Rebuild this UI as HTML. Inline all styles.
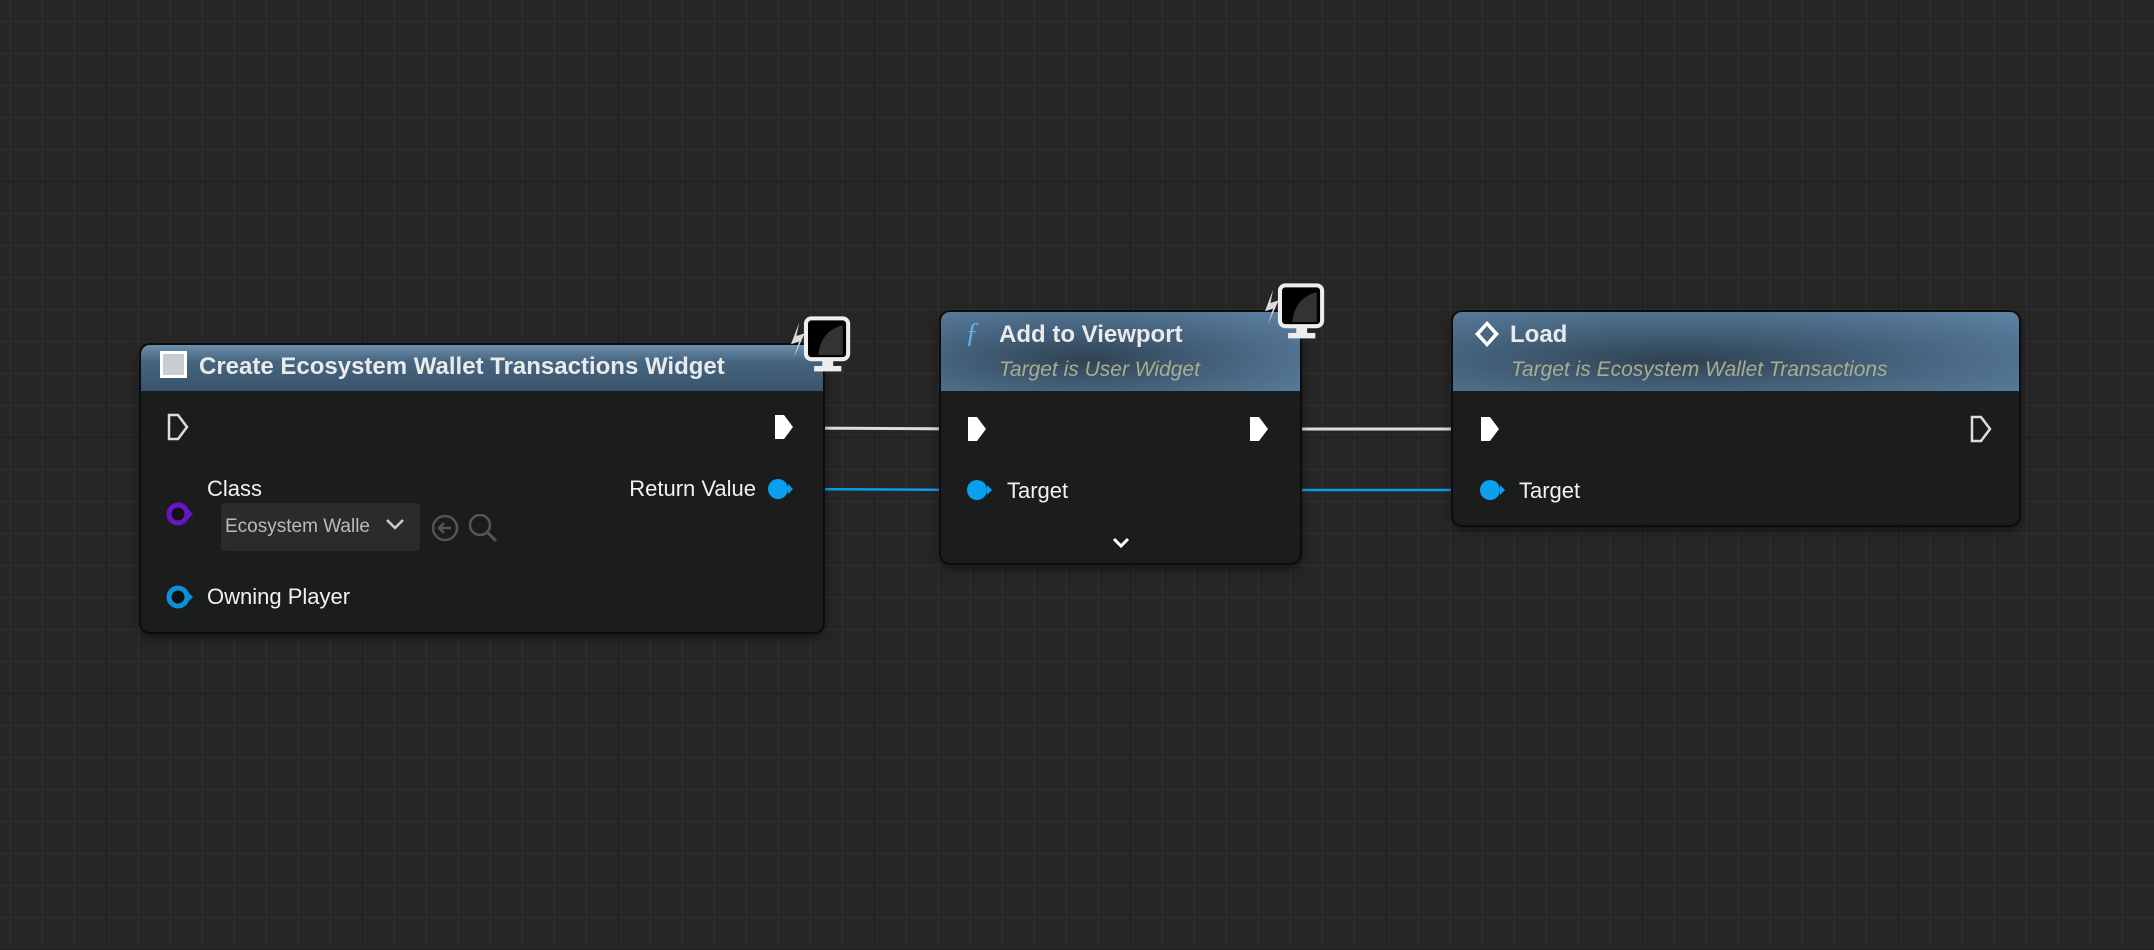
<!DOCTYPE html>
<html><head><meta charset="utf-8"><style>
html,body{margin:0;padding:0;}
body{width:2154px;height:950px;overflow:hidden;position:relative;font-family:"Liberation Sans",sans-serif;
background-color:#262626;
background-image:
linear-gradient(to right,#1e1e1e 0,#1e1e1e 1px,transparent 1px),
linear-gradient(to bottom,#1e1e1e 0,#1e1e1e 1px,transparent 1px),
linear-gradient(to right,#2f2f2f 0,#2f2f2f 1px,transparent 1px),
linear-gradient(to bottom,#2f2f2f 0,#2f2f2f 1px,transparent 1px);
background-size:256px 256px,256px 256px,32px 32px,32px 32px;
background-position:106px 0,0 181px,10px 0,0 21px;}
.node{position:absolute;background:#1b1c1c;border-radius:9px;box-shadow:0 0 0 2px #0c0c0c,0 4px 10px rgba(0,0,0,.6);overflow:hidden}
.hdr{position:absolute;left:0;top:0;right:0;height:79px;
background:linear-gradient(180deg,#6c8fae 0%,#46657f 35%,#3a546b 100%);}
.hdr2{background:radial-gradient(ellipse at 40% 60%,#2f4253 0%,#45627c 45%,#5e84a5 100%);}
.t{position:absolute;color:#fff;white-space:nowrap}
.title{font-size:24px;font-weight:bold;color:#e8eaec}
.sub{font-size:21px;font-style:italic;color:#a9ad8d}
.lbl{font-size:22px;color:#f2f2f2}
svg{position:absolute;left:0;top:0}
</style></head><body>
<svg width="2154" height="950">
 <line x1="790" y1="428" x2="975" y2="429" stroke="#dcdcdc" stroke-width="3"/>
 <line x1="1268" y1="429" x2="1488" y2="429" stroke="#dcdcdc" stroke-width="3"/>
 <line x1="790" y1="489" x2="975" y2="490" stroke="#0a9be8" stroke-width="2.5"/>
 <line x1="1300" y1="490" x2="1488" y2="490" stroke="#0a9be8" stroke-width="2.5"/>
</svg>

<div class="node" style="left:141px;top:345px;width:682px;height:287px">
 <div class="hdr" style="height:46px"></div>
 <div style="position:absolute;left:19px;top:6px;width:27px;height:27px;background:#c9ccd0;border:3px solid #fff;box-sizing:border-box"></div>
 <div class="t title" style="left:58px;top:8px">Create Ecosystem Wallet Transactions Widget</div>
 <div class="t lbl" style="left:66px;top:131px">Class</div>
 <div style="position:absolute;left:80px;top:158px;width:199px;height:48px;background:#2a2b2b;border-radius:4px"></div>
 <div class="t" style="left:84px;top:171px;font-size:19px;color:#bbb;width:150px;overflow:hidden">Ecosystem Walle</div>
 <div class="t lbl" style="right:67px;top:131px">Return Value</div>
 <div class="t lbl" style="left:66px;top:239px">Owning Player</div>
</div>

<div class="node" style="left:941px;top:312px;width:359px;height:251px">
 <div class="hdr hdr2"></div>
 <div class="t" style="left:24px;top:6px;font-size:28px;font-style:italic;color:#5fb2ef;font-family:'Liberation Serif',serif">ƒ</div>
 <div class="t title" style="left:58px;top:9px">Add to Viewport</div>
 <div class="t sub" style="left:58px;top:46px">Target is User Widget</div>
 <div class="t lbl" style="left:66px;top:166px">Target</div>
</div>

<div class="node" style="left:1453px;top:312px;width:566px;height:213px">
 <div class="hdr hdr2"></div>
 <div class="t title" style="left:57px;top:9px">Load</div>
 <div class="t sub" style="left:58px;top:46px">Target is Ecosystem Wallet Transactions</div>
 <div class="t lbl" style="left:66px;top:166px">Target</div>
</div>

<svg width="2154" height="950">
 <defs>
  <g id="mon">
   <path d="M6 4 L0 20 L6 18 L2 30 L10 12 L4 14 Z" fill="#ddd"/>
   <rect x="11" y="1" width="31" height="30" rx="4" fill="#000" stroke="#eee" stroke-width="3"/>
   <path d="M20 28 Q22 10 38 6 L38 28 Z" fill="#333"/>
   <rect x="23" y="32" width="8" height="5" fill="#eee"/><rect x="17" y="36" width="20" height="4" fill="#eee"/>
  </g>
 </defs>
 <use href="#mon" transform="translate(791,317) scale(1.36)"/>
 <use href="#mon" transform="translate(1265,284) scale(1.36)"/>
 <path d="M169 415 h9 l9 12 l-9 12 h-9 z" fill="none" stroke="#ddd" stroke-width="2.5"/>
 <path d="M775 415 h9 l9 12 l-9 12 h-9 z" fill="#fff"/>
 <circle cx="178" cy="514" r="9" fill="#111" stroke="#6a14c8" stroke-width="5"/><path d="M188 509 l5 5 l-5 5z" fill="#6a14c8"/>
 <circle cx="778" cy="489" r="10" fill="#0aa0f0"/><path d="M788 484 l5 5 l-5 5z" fill="#0aa0f0"/>
 <circle cx="178" cy="597" r="9" fill="#111" stroke="#0a90dc" stroke-width="5"/><path d="M188 592 l5 5 l-5 5z" fill="#0a90dc"/>
 <path d="M387 520 l8 8 l8 -8" fill="none" stroke="#ccc" stroke-width="2.5"/>
 <circle cx="445" cy="528" r="12" fill="none" stroke="#555" stroke-width="2.5"/><path d="M451 528 h-12 m5 -5 l-5 5 l5 5" fill="none" stroke="#555" stroke-width="2.5"/>
 <circle cx="480" cy="525" r="10" fill="none" stroke="#555" stroke-width="2.5"/><line x1="487" y1="532" x2="496" y2="541" stroke="#555" stroke-width="3"/>
 <path d="M968 417 h9 l9 12 l-9 12 h-9 z" fill="#fff"/>
 <path d="M1250 417 h9 l9 12 l-9 12 h-9 z" fill="#fff"/>
 <circle cx="977" cy="490" r="10" fill="#0aa0f0"/><path d="M987 485 l5 5 l-5 5z" fill="#0aa0f0"/>
 <path d="M1114 539 l7 7 l7 -7" fill="none" stroke="#fff" stroke-width="3"/>
 <path d="M1481 417 h9 l9 12 l-9 12 h-9 z" fill="#fff"/>
 <path d="M1972 417 h9 l9 12 l-9 12 h-9 z" fill="none" stroke="#ddd" stroke-width="2.5"/>
 <circle cx="1490" cy="490" r="10" fill="#0aa0f0"/><path d="M1500 485 l5 5 l-5 5z" fill="#0aa0f0"/>
 <path d="M1487 321 l12 13 l-12 13 l-12 -13 z" fill="#fff"/><path d="M1487 326 l7 8 l-7 8 l-7 -8 z" fill="#4a6882"/>
</svg>
</body></html>
